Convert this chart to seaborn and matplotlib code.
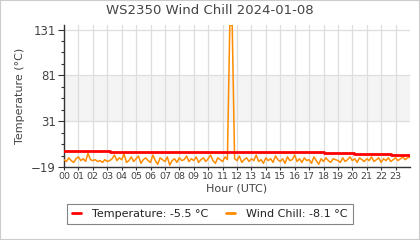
import numpy as np
import pandas as pd
import matplotlib
matplotlib.use("Agg")
import matplotlib.pyplot as plt
from matplotlib.lines import Line2D
from matplotlib.patches import Rectangle
from matplotlib.ticker import FixedLocator
import seaborn as sns

title = "WS2350 Wind Chill 2024-01-08"
x_label = "Hour (UTC)"
y_label = "Temperature (°C)"
hour_labels = [f"{h:02d}" for h in range(24)]
y_ticks = [-19, 31, 81, 131]

# Temperature (step series): change times in hours and values
temp_hours = [0.0, 3.2, 18.0, 20.1, 22.7, 24.0]
temp_vals = [-1.2, -2.2, -3.3, -4.4, -5.5, -5.5]

# Wind chill, one reading every 10 minutes (00:00 .. 24:00)
wind_chill = [
    -11, -13, -9, -12, -14, -10,
    -8, -12, -10, -13, -4, -11,
    -12, -11, -13, -12, -14, -11,
    -13, -12, -10, -6, -12, -9,
    -11, -5, -14, -12, -8, -13,
    -10, -7, -15, -11, -9, -12,
    -14, -6, -12, -16, -9, -11,
    -13, -8, -17, -12, -10, -14,
    -9, -12, -11, -7, -13, -10,
    -12, -8, -14, -11, -9, -13,
    -10, -6, -12, -15, -9, -11,
    -13, -8, -11, 136, 136, -10,
    -12, -7, -14, -11, -9, -13,
    -10, -12, -6, -13, -11, -15,
    -9, -12, -10, -14, -7, -11,
    -13, -10, -15, -8, -12, -11,
    -6, -13, -10, -14, -9, -12,
    -11, -15, -8, -12, -16, -10,
    -13, -9, -12, -14, -10, -11,
    -12, -14, -9, -13, -11, -8,
    -12, -10, -14, -9, -11, -13,
    -10, -12, -8, -13, -11, -9,
    -14, -10, -12, -9, -13, -11,
    -9, -12, -10, -8, -11, -9,
    -8.1,
]
wc_hours = np.arange(len(wind_chill)) / 6.0

temp_label = "Temperature: -5.5 °C"
wc_label = "Wind Chill: -8.1 °C"

sns.set_style("white")
plt.rcParams["font.family"] = ["DejaVu Sans"]

TXT = "#444444"
fig = plt.figure(figsize=(4.2, 2.4), dpi=100)
fig.patch.set_facecolor("white")
ax = fig.add_axes([64 / 420, 1 - 167 / 240, (410 - 64) / 420, (167 - 25) / 240])

ax.axhspan(31, 81, color="#f4f4f4", zorder=0, lw=0)

sns.lineplot(x=wc_hours, y=wind_chill, ax=ax, color="#ff8c00", linewidth=1.1,
             sort=False, estimator=None, zorder=3)
sns.lineplot(x=temp_hours, y=temp_vals, ax=ax, color="#ff0000", linewidth=2,
             drawstyle="steps-post", sort=False, estimator=None, zorder=4)

ax.set_xlim(0, 24)
ax.set_ylim(-19, 136)
ax.xaxis.set_major_locator(FixedLocator(range(24)))
ax.set_xticklabels(hour_labels)
ax.yaxis.set_major_locator(FixedLocator(y_ticks))
ax.yaxis.set_minor_locator(FixedLocator(list(np.arange(-19, 137, 12.5))))
ax.grid(True, which="major", color="#dddddd", linewidth=0.9, zorder=1)
ax.set_axisbelow(True)

for s in ["top", "right"]:
    ax.spines[s].set_visible(False)
for s in ["left", "bottom"]:
    ax.spines[s].set_color("#333333")
    ax.spines[s].set_linewidth(1)

ax.tick_params(axis="y", which="major", length=4, width=0.8, color="#333333",
               labelsize=8.5, labelcolor=TXT, pad=2, left=True)
ax.tick_params(axis="y", which="minor", length=2.5, width=0.8, color="#333333", left=True)
ax.tick_params(axis="x", which="major", length=2, width=0.8, color="#333333",
               labelsize=6.8, labelcolor=TXT, pad=1.5, bottom=True)

ax.set_xlabel(x_label, fontsize=8, color=TXT, labelpad=2)
ax.set_ylabel(y_label, fontsize=8, color=TXT, labelpad=4)
fig.suptitle(title, x=210 / 420, y=1 - 11 / 240, va="center", fontsize=9.5, color=TXT)

handles = [Line2D([], [], color="#ff0000", lw=2), Line2D([], [], color="#ff8c00", lw=2)]
leg = fig.legend(handles, [temp_label, wc_label], loc="center",
                 bbox_to_anchor=(210 / 420, 1 - 214 / 240), ncol=2, fontsize=8,
                 frameon=True, fancybox=False, handlelength=0.8, columnspacing=1.6,
                 handletextpad=1.0, borderpad=0.45, borderaxespad=0)
leg.get_frame().set_edgecolor("#666666")
leg.get_frame().set_linewidth(0.8)
for t in leg.get_texts():
    t.set_color("#222222")

fig.patches.append(Rectangle((0, 0), 1, 1, transform=fig.transFigure, fill=False,
                             edgecolor="#cccccc", linewidth=1.5, zorder=10))

fig.savefig("out.png", dpi=100)
